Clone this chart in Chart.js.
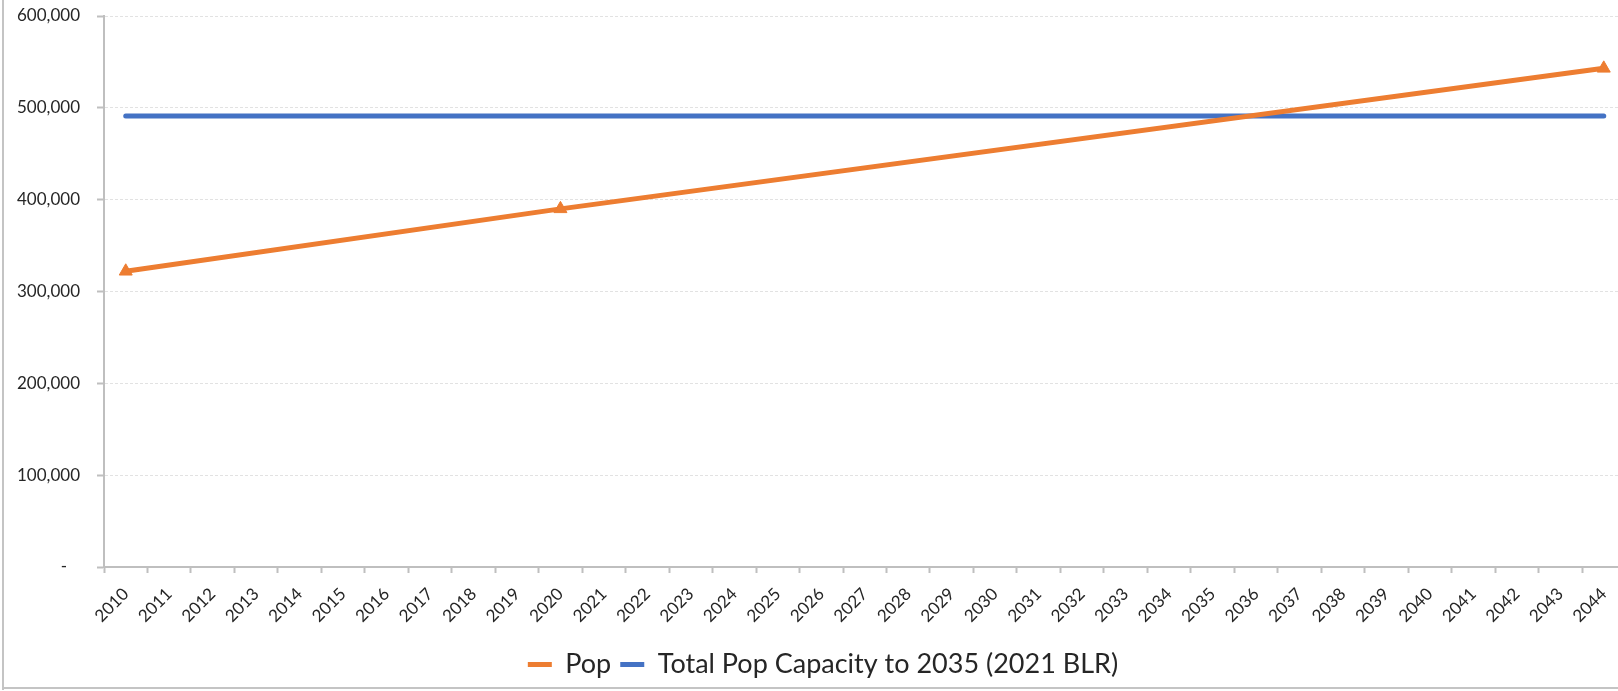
<!DOCTYPE html>
<html>
<head>
<meta charset="utf-8">
<script src="https://cdn.jsdelivr.net/npm/chart.js@4/dist/chart.umd.min.js"></script>
<style>
html,body{margin:0;padding:0;background:#fff;overflow:hidden;}
#wrap{position:relative;width:1618px;height:691px;overflow:hidden;background:#fff;}
#holder{position:absolute;left:0;top:0;width:1634px;height:691px;}
#frameL{position:absolute;left:2px;top:0;width:2px;height:690px;background:#c4c4c4;}
#frameB{position:absolute;left:2px;top:687px;width:1616px;height:2px;background:#c4c4c4;}
</style>
</head>
<body>
<div id="wrap">
  <div id="holder"><canvas id="c"></canvas></div>
  <div id="frameL"></div>
  <div id="frameB"></div>
</div>
<script>
// ---- data ----
const years = ['2010','2011','2012','2013','2014','2015','2016','2017','2018','2019',
  '2020','2021','2022','2023','2024','2025','2026','2027','2028','2029',
  '2030','2031','2032','2033','2034','2035','2036','2037','2038','2039',
  '2040','2041','2042','2043','2044'];
// Pop: known values at 2010, 2020, 2044 (others blank, line drawn across gaps)
const popValues = [322000, null, null, null, null, null, null, null, null, null,
  390000, null, null, null, null, null, null, null, null, null,
  null, null, null, null, null, null, null, null, null, null,
  null, null, null, null, 543000];
const capacityValues = [491000,491000,491000,491000,491000,491000,491000,491000,491000,491000,
  491000,491000,491000,491000,491000,491000,491000,491000,491000,491000,
  491000,491000,491000,491000,491000,491000,491000,491000,491000,491000,
  491000,491000,491000,491000,491000];
const yTicks = [0, 100000, 200000, 300000, 400000, 500000, 600000];
const seriesNames = ['Pop', 'Total Pop Capacity to 2035 (2021 BLR)'];

const ORANGE = '#ED7D31';
const BLUE = '#4472C4';
const AXIS = '#bfbfbf';
const TEXT = '#262626';
const FONT = 'Lato';

const legendShift = {
  id: 'legendShift',
  afterLayout(chart) {
    if (chart.legend) {
      chart.legend.left += 6;
      chart.legend.right += 6;
    }
  }
};

new Chart(document.getElementById('c'), {
  type: 'line',
  data: {
    labels: years,
    datasets: [
      {
        label: seriesNames[0],
        data: popValues,
        borderColor: ORANGE,
        backgroundColor: ORANGE,
        borderWidth: 5,
        spanGaps: true,
        tension: 0,
        pointStyle: 'triangle',
        pointRadius: 7.5,
        pointBorderWidth: 1,
        pointBackgroundColor: ORANGE,
        pointBorderColor: ORANGE,
        borderCapStyle: 'round'
      },
      {
        label: seriesNames[1],
        data: capacityValues,
        borderColor: BLUE,
        backgroundColor: BLUE,
        borderWidth: 5,
        pointRadius: 0,
        tension: 0,
        borderCapStyle: 'round'
      }
    ]
  },
  options: {
    responsive: true,
    maintainAspectRatio: false,
    animation: false,
    devicePixelRatio: 1,
    layout: { padding: { top: 16, left: 0, right: 0, bottom: 3 } },
    plugins: {
      tooltip: { enabled: false },
      legend: {
        display: true,
        position: 'bottom',
        labels: {
          boxWidth: 24,
          boxHeight: 5,
          padding: 9,
          color: TEXT,
          font: { family: FONT, size: 27 },
          generateLabels(chart) {
            const items = Chart.defaults.plugins.legend.labels.generateLabels(chart);
            items.forEach(it => { it.lineWidth = 0; it.fillStyle = it.strokeStyle; });
            return items;
          }
        }
      }
    },
    scales: {
      x: {
        type: 'category',
        offset: true,
        grid: {
          display: true,
          drawOnChartArea: false,
          drawTicks: true,
          offset: true,
          tickLength: 6,
          tickColor: AXIS,
          tickWidth: 2
        },
        border: { display: true, color: AXIS, width: 2 },
        ticks: {
          autoSkip: false,
          maxRotation: 45,
          minRotation: 45,
          padding: 11,
          color: TEXT,
          font: { family: FONT, size: 17 }
        },
        afterFit(scale) {
          scale.height = 75;
          scale.paddingLeft = 0;
          scale.paddingRight = 0;
        }
      },
      y: {
        min: 0,
        max: 600000,
        afterBuildTicks(scale) { scale.ticks = yTicks.map(v => ({ value: v })); },
        grid: {
          color: '#e2e2e2',
          lineWidth: 1,
          tickLength: 7,
          tickColor: AXIS,
          tickWidth: 2,
          tickBorderDash: []
        },
        border: { display: true, color: AXIS, width: 2, dash: [3, 2] },
        ticks: {
          padding: 17,
          color: TEXT,
          font: { family: FONT, size: 17 },
          callback(v) { return v === 0 ? '-   ' : v.toLocaleString('en-US'); }
        },
        afterFit(scale) {
          scale.width = 104;
          scale.paddingTop = 0;
          scale.paddingBottom = 0;
        }
      }
    }
  },
  plugins: [legendShift]
});
</script>
</body>
</html>
